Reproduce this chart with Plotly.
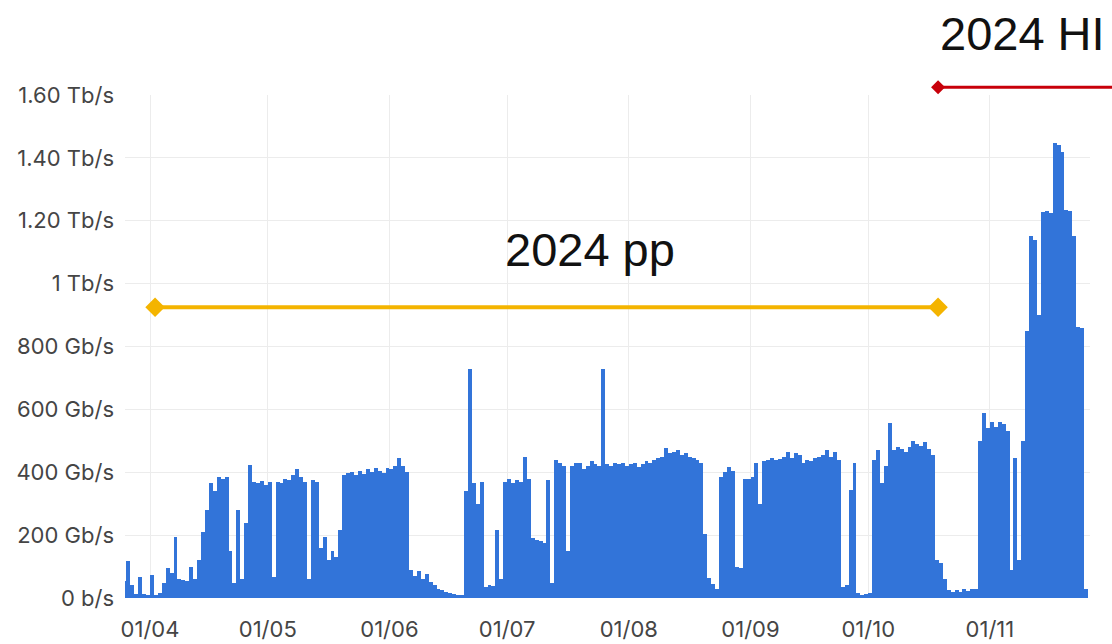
import pandas as pd
import plotly.graph_objects as go

# ---------------- data (daily peak throughput, Gb/s) ----------------
start_date = "2024-03-25"
mar_vals = [55, 118, 40, 12, 68, 12, 10]
apr_vals = [73, 10, 15, 47, 95, 80, 195, 60, 58, 55, 100, 60, 120, 210, 280,
            365, 340, 386, 380, 386, 150, 47, 280, 60, 240, 423, 370, 365, 372, 360]
may_vals = [368, 68, 370, 365, 380, 375, 390, 409, 385, 370, 60, 375, 370, 160, 195,
            120, 150, 130, 216, 390, 397, 400, 390, 405, 395, 410, 400, 412, 405, 398, 415]
jun_vals = [410, 420, 444, 420, 400, 90, 70, 85, 60, 75, 50, 40, 30, 25, 20,
            15, 12, 10, 8, 340, 730, 365, 300, 370, 36, 40, 38, 216, 60, 370]
jul_vals = [380, 365, 375, 370, 450, 380, 190, 185, 180, 175, 375, 47, 440, 430, 420,
            150, 420, 430, 428, 410, 420, 435, 425, 420, 730, 425, 420, 430, 425, 428, 420]
aug_vals = [425, 430, 418, 425, 435, 430, 440, 445, 450, 476, 460, 465, 470, 455, 462,
            450, 445, 440, 430, 205, 65, 45, 30, 386, 400, 418, 405, 100, 95, 380, 378]
sep_vals = [385, 428, 300, 435, 440, 445, 438, 442, 450, 465, 445, 460, 455, 430, 440,
            435, 445, 450, 455, 470, 450, 465, 440, 36, 40, 343, 428, 15, 10, 12]
oct_vals = [15, 440, 470, 365, 420, 556, 470, 480, 475, 465, 480, 500, 490, 485, 495,
            475, 455, 120, 110, 60, 25, 20, 25, 18, 30, 22, 28, 30, 500, 587, 540]
nov_vals = [560, 545, 560, 555, 530, 90, 444, 120, 500, 850, 1150, 1140, 900, 1229, 1230,
            1225, 1446, 1440, 1420, 1234, 1230, 1150, 863, 860, 30]

traffic_gbps = (mar_vals + apr_vals + may_vals + jun_vals + jul_vals +
                aug_vals + sep_vals + oct_vals + nov_vals)

tick_dates = ["2024-04-01", "2024-05-01", "2024-06-01", "2024-07-01",
              "2024-08-01", "2024-09-01", "2024-10-01", "2024-11-01"]
tick_labels = ["01/04", "01/05", "01/06", "01/07", "01/08", "01/09", "01/10", "01/11"]
y_ticks = [0, 200, 400, 600, 800, 1000, 1200, 1400, 1600]
y_labels = ["0 b/s", "200 Gb/s", "400 Gb/s", "600 Gb/s", "800 Gb/s",
            "1 Tb/s", "1.20 Tb/s", "1.40 Tb/s", "1.60 Tb/s"]

# period markers
pp_period = ["2024-04-02 07:00", "2024-10-18 19:00"]
pp_level = 925
pp_label = "2024 pp"
pp_label_pos = ("2024-07-22", 1107)
hi_start = "2024-10-18 19:00"
hi_level = 1625
hi_label = "2024 HI"
hi_label_level = 1797

x_range = ["2024-03-25 15:00", "2024-11-26 12:00"]
y_range = [0, 1600]

# ---------------- figure ----------------
dates = pd.date_range(start_date, periods=len(traffic_gbps), freq="D") + pd.Timedelta(hours=12)

BLUE = "#3274D9"
YELLOW = "#F4B400"
RED = "#C8000A"
TICK_FONT = dict(family="Inter, Roboto, sans-serif", size=22, color="#454545")
BIG_FONT = dict(family="Liberation Sans, Arial, sans-serif", size=47, color="#111111")

fig = go.Figure()
fig.add_trace(go.Bar(x=dates, y=traffic_gbps, width=86400000,
                     marker=dict(color=BLUE, line=dict(width=0)),
                     hoverinfo="skip", showlegend=False))

fig.add_trace(go.Scatter(x=pp_period, y=[pp_level, pp_level], mode="lines+markers",
                         line=dict(color=YELLOW, width=4),
                         marker=dict(symbol="diamond", size=15, color=YELLOW),
                         showlegend=False, cliponaxis=False))

x0 = pd.Timestamp(x_range[0])
x1 = pd.Timestamp(x_range[1])
hi_paper_x = (pd.Timestamp(hi_start) - x0) / (x1 - x0)
hi_paper_y = hi_level / y_range[1]

fig.add_shape(type="line", xref="paper", yref="paper",
              x0=hi_paper_x, x1=1.05, y0=hi_paper_y, y1=hi_paper_y,
              line=dict(color=RED, width=3))
fig.add_shape(type="path", xref="paper", yref="paper",
              xsizemode="pixel", ysizemode="pixel",
              xanchor=hi_paper_x, yanchor=hi_paper_y,
              path="M -7 0 L 0 7 L 7 0 L 0 -7 Z",
              fillcolor=RED, line=dict(color=RED, width=0))

fig.add_annotation(x=pp_label_pos[0], y=pp_label_pos[1], xref="x", yref="y",
                   text=pp_label, showarrow=False, font=BIG_FONT)
fig.add_annotation(x=hi_start, y=hi_label_level / y_range[1], xref="x", yref="paper",
                   text=hi_label, showarrow=False, font=BIG_FONT,
                   xanchor="left", yanchor="middle")

fig.update_layout(
    width=1112, height=644,
    margin=dict(l=125, r=22, t=95, b=46, autoexpand=False),
    paper_bgcolor="white", plot_bgcolor="white",
    bargap=0, showlegend=False,
)
fig.update_xaxes(type="date", range=x_range, tickvals=tick_dates, ticktext=tick_labels,
                 showgrid=True, gridcolor="#ececec", gridwidth=1,
                 showline=False, zeroline=False, ticks="", automargin=False,
                 tickfont=TICK_FONT, ticklabelstandoff=16)
fig.update_yaxes(range=y_range, tickvals=y_ticks, ticktext=y_labels,
                 showgrid=True, gridcolor="#ececec", gridwidth=1,
                 showline=False, zeroline=False, ticks="", automargin=False,
                 tickfont=TICK_FONT, ticklabelstandoff=10)

fig.write_html("out.html", config={"displayModeBar": False},
               post_script="document.body.style.margin='0';")
